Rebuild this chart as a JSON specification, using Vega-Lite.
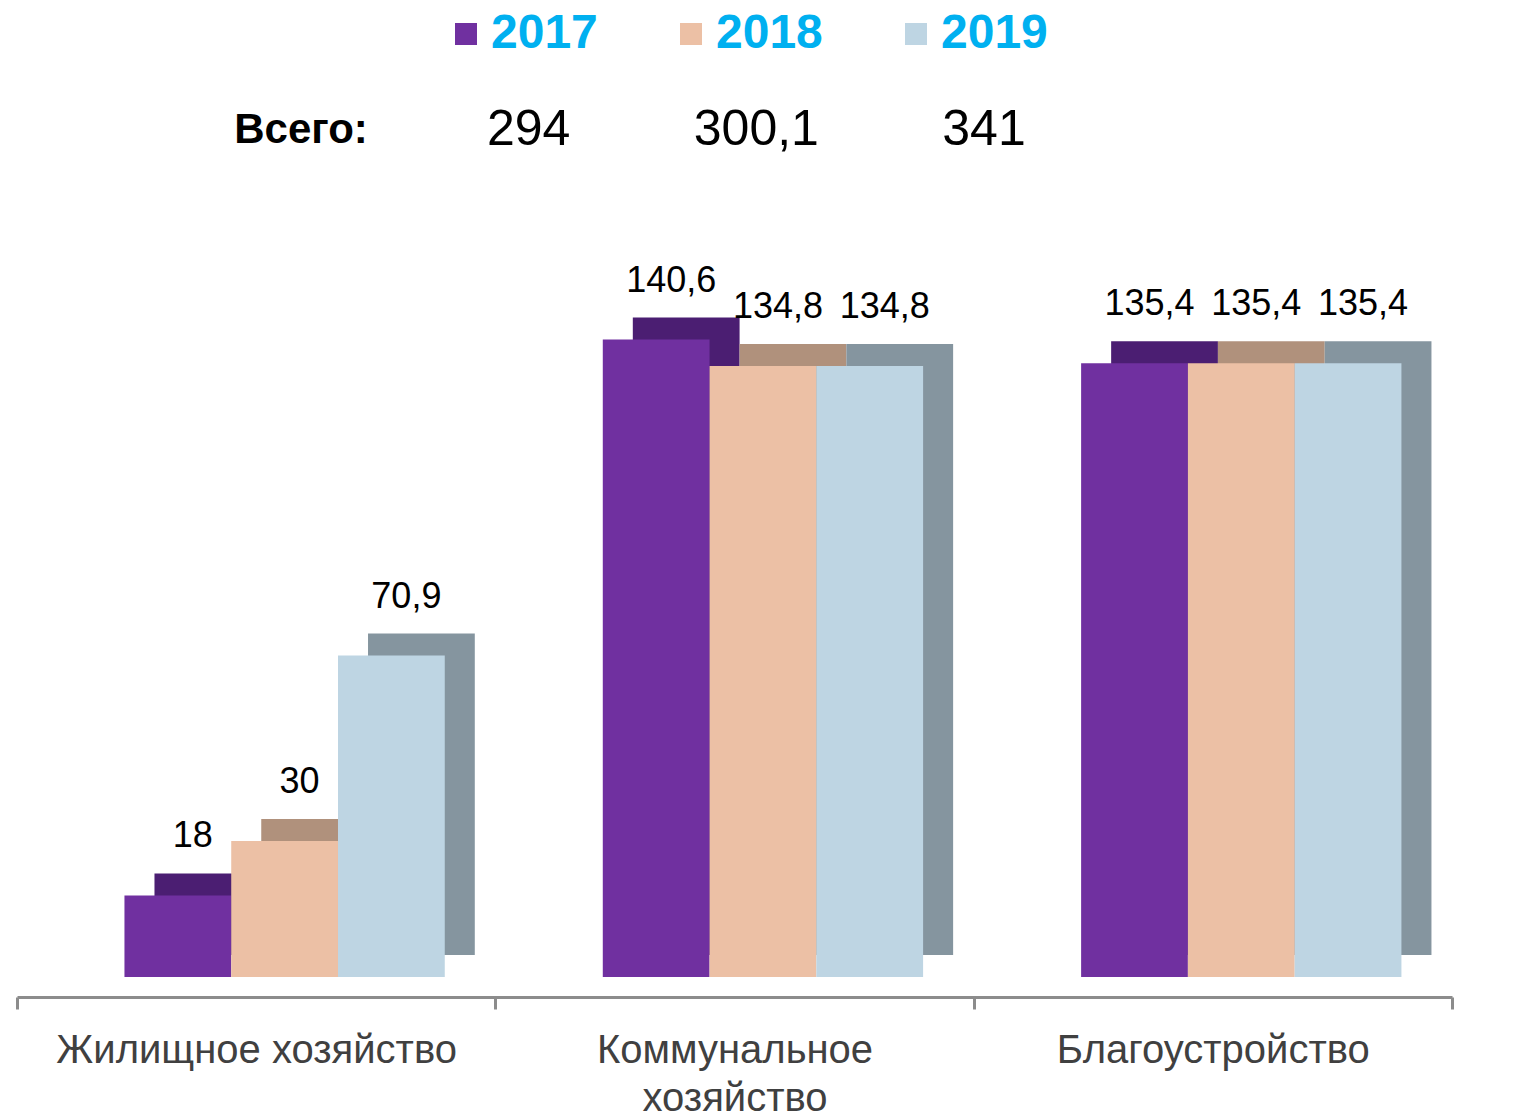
{
  "$schema": "https://vega.github.io/schema/vega-lite/v6.json",
  "padding": {"left": 15, "top": 10, "right": 10, "bottom": 0},
  "bounds": "flush",
  "spacing": 47,
  "config": {
    "locale": {"number": {"decimal": ",", "thousands": " ", "grouping": [3], "currency": ["", ""]}},
    "view": {"stroke": null},
    "font": "Liberation Sans"
  },
  "datasets": {
    "totals": [
      {"year": "2017", "total": 294},
      {"year": "2018", "total": 300.1},
      {"year": "2019", "total": 341}
    ],
    "bars": [
      {"category": "Жилищное  хозяйство", "year": "2017", "value": 18},
      {"category": "Жилищное  хозяйство", "year": "2018", "value": 30},
      {"category": "Жилищное  хозяйство", "year": "2019", "value": 70.9},
      {"category": "Коммунальное хозяйство", "year": "2017", "value": 140.6},
      {"category": "Коммунальное хозяйство", "year": "2018", "value": 134.8},
      {"category": "Коммунальное хозяйство", "year": "2019", "value": 134.8},
      {"category": "Благоустройство", "year": "2017", "value": 135.4},
      {"category": "Благоустройство", "year": "2018", "value": 135.4},
      {"category": "Благоустройство", "year": "2019", "value": 135.4}
    ]
  },
  "vconcat": [
    {
      "width": 1435,
      "height": 240,
      "layer": [
        {
          "data": {"values": [{"label": "Всего:"}]},
          "mark": {"type": "text", "fontSize": 42, "fontWeight": "bold", "color": "#000000"},
          "encoding": {
            "x": {"field": "label", "type": "nominal", "scale": {"type": "point", "domain": ["Всего:", "2017", "2018", "2019"], "range": [284, 967], "padding": 0}, "axis": null},
            "text": {"field": "label"}
          }
        },
        {
          "data": {"name": "totals"},
          "mark": {"type": "text", "fontSize": 50, "color": "#000000"},
          "encoding": {
            "x": {"field": "year", "type": "nominal", "axis": null},
            "text": {"field": "total", "type": "quantitative", "format": "~g"}
          }
        }
      ]
    },
    {
      "width": 1435,
      "height": 680,
      "data": {"name": "bars"},
      "encoding": {
        "x": {
          "field": "category", "type": "nominal", "sort": null,
          "scale": {"paddingInner": 0, "paddingOuter": 0},
          "axis": {
            "title": null, "orient": "bottom", "offset": 20,
            "domainColor": "#8c8c8c", "domainWidth": 3,
            "tickColor": "#8c8c8c", "tickWidth": 3, "tickSize": 12, "tickBand": "extent",
            "labelFontSize": 40, "labelColor": "#404040", "labelPadding": 21,
            "labelLineHeight": 48, "labelAngle": 0, "labelLimit": 700,
            "labelExpr": "datum.value == 'Коммунальное хозяйство' ? ['Коммунальное', 'хозяйство'] : datum.value"
          }
        },
        "y": {"field": "value", "type": "quantitative", "scale": {"domain": [0, 150], "nice": false}, "axis": null}
      },
      "layer": [
        {
          "mark": {"type": "bar", "yOffset": -22},
          "encoding": {
            "xOffset": {"field": "year", "type": "nominal", "sort": ["2017", "2018", "2019"], "scale": {"paddingInner": 0, "paddingOuter": 0.74, "align": 0.87}},
            "fill": {"field": "year", "type": "nominal", "scale": {"range": ["#4B1E72", "#B0917C", "#85959F"]}, "legend": null}
          }
        },
        {
          "layer": [
            {
              "mark": {"type": "bar"},
              "encoding": {
                "xOffset": {"field": "year", "type": "nominal", "sort": ["2017", "2018", "2019"], "scale": {"paddingInner": 0, "paddingOuter": 0.74, "align": 0.68}},
                "color": {
                  "field": "year", "type": "nominal",
                  "scale": {"domain": ["2017", "2018", "2019"], "range": ["#7030A0", "#ECC0A5", "#BED5E3"]},
                  "legend": {
                    "title": null, "orient": "none", "direction": "horizontal",
                    "legendX": 425, "legendY": 0,
                    "symbolType": "square", "symbolSize": 484, "symbolStrokeWidth": 0,
                    "labelFontSize": 48, "labelFontWeight": "bold", "labelColor": "#00B0F0",
                    "labelOffset": 1, "columnPadding": 69
                  }
                }
              }
            },
            {
              "mark": {"type": "text", "fontSize": 36, "baseline": "bottom", "dx": 15, "dy": -40, "color": "#000000"},
              "encoding": {
                "xOffset": {"field": "year", "type": "nominal", "sort": ["2017", "2018", "2019"], "scale": {"paddingInner": 0, "paddingOuter": 0.74, "align": 0.68}},
                "text": {"field": "value", "type": "quantitative", "format": "~g"}
              }
            }
          ]
        }
      ],
      "resolve": {"scale": {"xOffset": "independent"}}
    }
  ]
}
